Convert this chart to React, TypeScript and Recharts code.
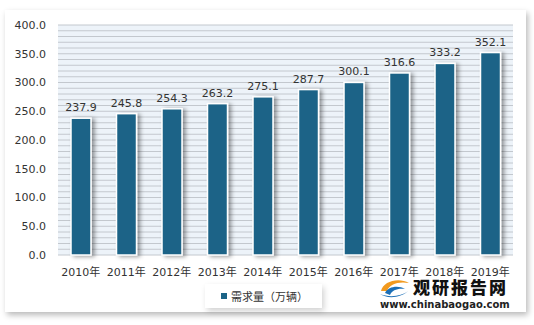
import React from "react";
import { BarChart, Bar, XAxis, YAxis, CartesianGrid, LabelList } from "recharts";

const years = ["2010年", "2011年", "2012年", "2013年", "2014年", "2015年", "2016年", "2017年", "2018年", "2019年"];
const demand = [237.9, 245.8, 254.3, 263.2, 275.1, 287.7, 300.1, 316.6, 333.2, 352.1];
const yTicks = [0, 50, 100, 150, 200, 250, 300, 350, 400];
const stripeTicks = Array.from({ length: 41 }, (_, i) => i * 10);
const Y_MAX = 400;
const seriesName = "需求量（万辆）";

const data = years.map((y, i) => ({ year: y, value: demand[i] }));

const FONT = "'DejaVu Sans', 'Noto Sans CJK SC', sans-serif";
const BAR = "#1b6487";

const ShadowBar = (props: any) => {
  const { x, y, width, height } = props;
  if (height <= 0) return null;
  return (
    <rect x={x} y={y} width={width} height={height} fill={BAR} stroke="#ffffff" strokeWidth={1.5} filter="url(#barShadow)" />
  );
};

const LegendBox = () => (
  <div
    style={{
      position: "absolute",
      left: 205,
      top: 284,
      height: 24,
      padding: "0 14px 0 16px",
      background: "#fff",
      boxShadow: "2px 3px 6px rgba(0,0,0,0.18)",
      display: "flex",
      alignItems: "center",
      fontFamily: FONT,
      fontSize: 11,
      color: "#333",
      whiteSpace: "nowrap",
    }}
  >
    <span style={{ width: 6, height: 6, background: BAR, display: "inline-block", marginRight: 4 }} />
    <span>{seriesName}</span>
  </div>
);

const stripeGen = (p: any) => {
  const scale = p?.yAxis?.scale;
  const off = p?.offset;
  return stripeTicks.map((t) => {
    if (typeof scale === "function") return scale(t);
    if (scale && typeof scale.map === "function") return scale.map(t);
    return off.top + off.height * (1 - t / Y_MAX);
  });
};

export default function App() {
  return (
    <div style={{ position: "absolute", left: 0, top: 0, width: 534, height: 325, background: "#fff", overflow: "hidden" }}>
      <div
        style={{
          position: "absolute",
          left: 5,
          top: 10,
          width: 521,
          height: 302,
          background: "#fff",
          boxShadow: "2px 3px 6px rgba(0,0,0,0.28)",
        }}
      />
      <div style={{ position: "absolute", left: 0, top: 0 }}>
        <BarChart width={534} height={325} data={data} margin={{ top: 25, right: 21, left: 8, bottom: 45 }}>
          <defs>
            <filter id="barShadow" x="-50%" y="-10%" width="220%" height="125%">
              <feDropShadow dx={3} dy={1} stdDeviation={2.2} floodColor="#000" floodOpacity={0.4} />
            </filter>
          </defs>
          <CartesianGrid vertical={false} stroke="#c3c8ce" fill="#edf3f9" fillOpacity={1} horizontalCoordinatesGenerator={stripeGen} />
          <YAxis
            domain={[0, Y_MAX]}
            ticks={yTicks}
            width={50}
            axisLine={false}
            tickLine={false}
            tickFormatter={(v: number) => v.toFixed(1)}
            tick={{ fontSize: 11, fill: "#333", fontFamily: FONT }}
            tickMargin={6}
          />
          <XAxis
            dataKey="year"
            height={25}
            axisLine={false}
            tickLine={false}
            tick={{ fontSize: 11, fill: "#333", fontFamily: FONT }}
            tickMargin={7}
            interval={0}
          />
          <Bar dataKey="value" name={seriesName} barSize={20} shape={ShadowBar} isAnimationActive={false}>
            <LabelList
              dataKey="value"
              position="top"
              offset={7}
              formatter={(v: any) => Number(v).toFixed(1)}
              style={{ fontSize: 11, fill: "#333", fontFamily: FONT }}
            />
          </Bar>
        </BarChart>
      </div>
      <LegendBox />
      <svg style={{ position: "absolute", left: 379, top: 278 }} width={32} height={20}>
        <path d="M2 13 C 4 3, 20 -1, 30 5 C 20 3, 10 6, 8 13 Z" fill="#f29a1f" />
        <path d="M6 15 C 9 8, 20 7, 26 11 C 19 10, 13 12, 11 17 Z" fill="#1c6fb6" />
        <path d="M1 16 C 8 21, 22 20, 29 13 C 23 18, 11 20, 1 16 Z" fill="#1c6fb6" />
      </svg>
      <div style={{ position: "absolute", left: 413, top: 279, fontFamily: "'Noto Sans CJK SC', sans-serif", fontWeight: 900, fontSize: 17, color: "#111", lineHeight: "16px", letterSpacing: 2 }}>
        观研报告网
      </div>
      <div style={{ position: "absolute", left: 380, top: 299, fontFamily: "'DejaVu Sans', sans-serif", fontWeight: 700, fontSize: 10, color: "#222", lineHeight: "12px" }}>
        www.chinabaogao.com
      </div>
    </div>
  );
}
